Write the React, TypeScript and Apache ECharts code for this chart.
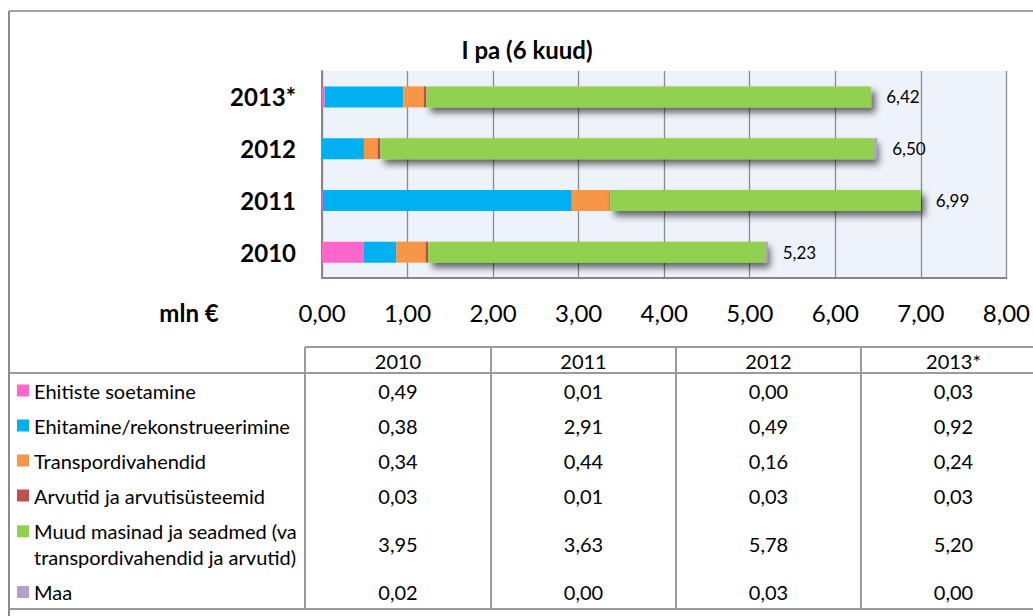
import React, { useEffect, useRef } from "react";
import * as echarts from "echarts";

const categories = ["2010", "2011", "2012", "2013*"];
const seriesNames = [
  "Ehitiste soetamine",
  "Ehitamine/rekonstrueerimine",
  "Transpordivahendid",
  "Arvutid ja arvutisüsteemid",
  "Muud masinad ja seadmed (va\ntranspordivahendid ja arvutid)",
  "Maa",
];
const ehitisteSoetamine = [0.49, 0.01, 0.0, 0.03];
const ehitamine = [0.38, 2.91, 0.49, 0.92];
const transpordivahendid = [0.34, 0.44, 0.16, 0.24];
const arvutid = [0.03, 0.01, 0.03, 0.03];
const muudMasinad = [3.95, 3.63, 5.78, 5.2];
const maa = [0.02, 0.0, 0.03, 0.0];
const totals = [5.23, 6.99, 6.5, 6.42];
const xTicks = [0, 1, 2, 3, 4, 5, 6, 7, 8];
const title = "I pa (6 kuud)";
const unitLabel = "mln €";

const colors = ["#FF66CC", "#00B0F0", "#F79646", "#C0504D", "#92D050", "#B3A2C7"];
const FONT = "Lato, 'Open Sans', sans-serif";

const fmt = (v: number) => v.toFixed(2).replace(".", ",");

export default function App() {
  const ref = useRef<HTMLDivElement>(null);
  useEffect(() => {
    if (!ref.current) return;
    const chart = echarts.init(ref.current, undefined, { renderer: "svg" });
    const values = [ehitisteSoetamine, ehitamine, transpordivahendid, arvutid, muudMasinad, maa];

    const series: any[] = values.map((arr, i) => ({
      name: seriesNames[i],
      type: "bar",
      stack: "total",
      barWidth: 21,
      data: arr,
      itemStyle: {
        color: colors[i],
        ...(i === 4
          ? { shadowColor: "rgba(0,0,0,0.6)", shadowBlur: 7, shadowOffsetX: 4, shadowOffsetY: 5 }
          : {}),
      },
      label:
        i === values.length - 1
          ? {
              show: true,
              position: "right",
              distance: 15,
              formatter: (p: any) => fmt(totals[p.dataIndex]),
              fontFamily: FONT,
              fontSize: 17,
              color: "#000",
            }
          : { show: false },
      emphasis: { disabled: true },
    }));

    // Table geometry
    const lineColor = "#9a9a9a";
    const colX = [305, 491, 676, 861, 1046];
    const headerTop = 347;
    const headerBottom = 373;
    const tableBottom = 609;
    const rowCenters = [390.5, 425.5, 460.5, 495.5, 544, 592];
    const graphics: any[] = [];
    const addLine = (x1: number, y1: number, x2: number, y2: number, color = lineColor, w = 2) =>
      graphics.push({
        type: "line",
        shape: { x1, y1, x2, y2 },
        style: { stroke: color, lineWidth: w },
        silent: true,
      });

    // outer frame
    addLine(9, 11, 1040, 11, "#8a8a8a", 1.5);
    addLine(9, 11, 9, 620, "#8a8a8a", 2);
    // table lines
    addLine(colX[0], headerTop, 1040, headerTop);
    addLine(9, headerBottom, 1040, headerBottom);
    addLine(9, tableBottom, 1040, tableBottom);
    colX.slice(0, 4).forEach((x) => addLine(x, headerTop, x, tableBottom));

    const textStyle = (text: string, x: number, y: number, font: string, align = "center") => ({
      text,
      x,
      y,
      font,
      textAlign: align,
      textVerticalAlign: "middle",
      verticalAlign: "middle",
      fill: "#000",
    });

    // title and unit
    graphics.push({ type: "text", style: textStyle(title, 527, 49, `bold 24px ${FONT}`) });
    graphics.push({ type: "text", style: textStyle(unitLabel, 189, 312, `bold 24px ${FONT}`) });

    // header
    categories.forEach((c, j) => {
      graphics.push({
        type: "text",
        style: textStyle(c, (colX[j] + colX[j + 1]) / 2, 360.5, `20px ${FONT}`),
      });
    });

    // rows
    seriesNames.forEach((name, i) => {
      const cy = rowCenters[i];
      const multi = name.includes("\n");
      const firstLineY = multi ? cy - 12.7 : cy;
      graphics.push({
        type: "rect",
        shape: { x: 17, y: firstLineY - 6, width: 12, height: 12 },
        style: { fill: colors[i] },
      });
      graphics.push({
        type: "text",
        style: { ...textStyle(name, 34, cy, `20px ${FONT}`, "left"), lineHeight: 25.5 },
      });
      values[i].forEach((v, j) => {
        graphics.push({
          type: "text",
          style: textStyle(fmt(v), (colX[j] + colX[j + 1]) / 2, cy, `20px ${FONT}`),
        });
      });
    });

    chart.setOption({
      animation: false,
      backgroundColor: "#fff",
      grid: {
        left: 322,
        top: 71,
        width: 685,
        height: 207,
        show: true,
        backgroundColor: "#EEF2FA",
        borderWidth: 0,
        containLabel: false,
      },
      xAxis: {
        type: "value",
        min: xTicks[0],
        max: xTicks[xTicks.length - 1],
        interval: 1,
        axisLine: { show: true, lineStyle: { color: "#868686", width: 2 } },
        axisTick: { show: false },
        splitLine: { show: true, lineStyle: { color: "#8c8c8c", width: 1.3 } },
        axisLabel: {
          formatter: (v: number) => fmt(v),
          fontFamily: FONT,
          fontSize: 24,
          color: "#000",
          margin: 22,
        },
      },
      yAxis: {
        type: "category",
        data: categories,
        axisLine: { show: true, lineStyle: { color: "#868686", width: 2 } },
        axisTick: { show: false },
        axisLabel: {
          fontFamily: FONT,
          fontSize: 24,
          fontWeight: "bold",
          color: "#000",
          margin: 26,
        },
      },
      series,
      graphic: { elements: graphics },
    });
    return () => chart.dispose();
  }, []);
  return (
    <div
      ref={ref}
      style={{ position: "absolute", left: 0, top: 0, width: 1033, height: 616 }}
    />
  );
}
